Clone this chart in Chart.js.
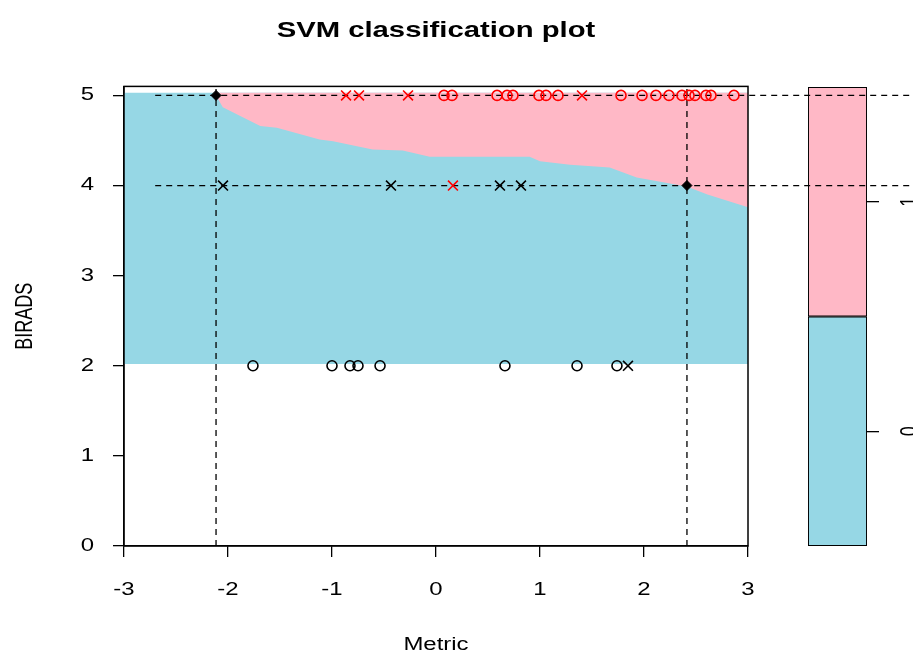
<!DOCTYPE html>
<html>
<head>
<meta charset="utf-8">
<script src="https://cdn.jsdelivr.net/npm/chart.js@4.4.1/dist/chart.umd.min.js"></script>
<style>
  body { margin: 0; background: #fff; }
  #wrap { position: relative; width: 913px; height: 656px; }
  #wrap canvas { position: absolute; left: 0; top: 0; }
</style>
</head>
<body>
<div id="wrap">
  <canvas id="legendBar" width="913" height="656"></canvas>
  <canvas id="svmPlot" width="913" height="656"></canvas>
</div>
<script>
// decision regions
const regionTop = 5.03
const regionBottom = 2.02
const boundaryX = [-2.13, -2.05, -1.69, -1.53, -1.12, -0.99, -0.61, -0.32, -0.06, 0.90, 1.00, 1.29, 1.67, 1.93, 2.41, 2.61, 3.00]
const boundaryY = [5.03, 4.87, 4.66, 4.64, 4.51, 4.49, 4.40, 4.39, 4.32, 4.32, 4.27, 4.23, 4.20, 4.09, 3.99, 3.90, 3.76]

// observations: "o" = data point, "x" = support vector
const row5RedO = [0.077, 0.154, 0.587, 0.683, 0.740, 0.990, 1.058, 1.173, 1.779, 1.981, 2.115, 2.240, 2.365, 2.433, 2.490, 2.596, 2.644, 2.865]
const row5RedX = [-0.865, -0.740, -0.269, 1.404]
const row4BlackX = [-2.048, -0.433, 0.615, 0.817]
const row4RedX = [0.163]
const row2BlackO = [-1.76, -1.00, -0.827, -0.75, -0.538, 0.663, 1.356, 1.740]
const row2BlackX = [1.846]

// slice lines
const sliceX = [-2.115, 2.413]
const sliceY = [5, 4]
const sliceStartX = -2.70
const sliceEndX = 4.70

const xTicks = [-3, -2, -1, 0, 1, 2, 3]
const yTicks = [0, 1, 2, 3, 4, 5]

const legendLevels = ['0', '1']
const legendShares = [0.5, 0.5]
const legendTickAt = [0.25, 0.75]

const BLUE = '#96d7e5'
const PINK = '#ffb8c6'
const FONT = '"Liberation Sans", Arial, sans-serif'
const TEXT_STRETCH = 1.33 // the source image is stretched sideways, text included

Chart.defaults.font.family = FONT
Chart.defaults.color = '#000'

// widen every piece of text horizontally on screen, around its anchor point
function stretchedContext(id) {
  const c = document.getElementById(id).getContext('2d')
  const fill = c.fillText.bind(c)
  c.fillText = function (text, x, y, maxWidth) {
    const m = c.getTransform()
    const p = m.transformPoint(new DOMPoint(x, y))
    c.setTransform(new DOMMatrix().translate(p.x, p.y).scale(TEXT_STRETCH, 1).translate(-p.x, -p.y).multiply(m))
    if (maxWidth === undefined) fill(text, x, y)
    else fill(text, x, y, maxWidth)
    c.setTransform(m)
  }
  return c
}

const row = (xs, y) => xs.map(x => ({ x: x, y: y }))

const pointSet = (xs, y, color, style, r) => ({
  type: 'scatter',
  data: row(xs, y),
  pointStyle: style,
  pointRadius: r,
  pointBorderColor: color,
  pointBackgroundColor: 'rgba(0,0,0,0)',
  pointBorderWidth: 1.6,
  showLine: false,
  order: 1
})

const dashed = (data) => ({
  type: 'line',
  data: data,
  borderColor: '#000',
  borderWidth: 1.3,
  borderDash: [6, 5],
  pointRadius: 0,
  fill: false,
  clip: false,
  order: 3
})

const boxPlugin = {
  id: 'box',
  afterDatasetsDraw(chart) {
    const a = chart.chartArea
    const c = chart.ctx
    c.save()
    c.strokeStyle = '#000'
    c.lineWidth = 1.5
    c.strokeRect(a.left, a.top, a.right - a.left, a.bottom - a.top)
    c.restore()
  }
}

var svm = new Chart(stretchedContext('svmPlot'), {
  type: 'scatter',
  data: {
    datasets: [
      {
        type: 'line',
        data: [{ x: -3, y: regionTop }, { x: 3, y: regionTop }],
        backgroundColor: BLUE,
        borderWidth: 0,
        pointRadius: 0,
        fill: { value: regionBottom },
        order: 10
      },
      {
        type: 'line',
        data: boundaryX.map((x, i) => ({ x: x, y: boundaryY[i] })),
        backgroundColor: PINK,
        borderWidth: 0,
        pointRadius: 0,
        fill: { value: regionTop },
        order: 9
      },
      dashed([{ x: sliceStartX, y: sliceY[0] }, { x: sliceEndX, y: sliceY[0] }]),
      dashed([{ x: sliceStartX, y: sliceY[1] }, { x: sliceEndX, y: sliceY[1] }]),
      dashed([{ x: sliceX[0], y: 0 }, { x: sliceX[0], y: 5.1 }]),
      dashed([{ x: sliceX[1], y: 0 }, { x: sliceX[1], y: 5.1 }]),
      pointSet(row5RedO, 5, '#ff0000', 'circle', 5),
      pointSet(row5RedX, 5, '#ff0000', 'crossRot', 7),
      pointSet(row4BlackX, 4, '#000', 'crossRot', 7),
      pointSet(row4RedX, 4, '#ff0000', 'crossRot', 7),
      pointSet(row2BlackO, 2, '#000', 'circle', 5),
      pointSet(row2BlackX, 2, '#000', 'crossRot', 7),
      {
        type: 'scatter',
        data: sliceX.map((x, i) => ({ x: x, y: sliceY[i] })),
        pointStyle: 'rectRot',
        pointRadius: 5,
        pointBackgroundColor: '#000',
        pointBorderColor: '#000',
        order: 0
      }
    ]
  },
  options: {
    responsive: false,
    animation: false,
    layout: { padding: { left: 0, right: 165, top: 0, bottom: 0 } },
    plugins: {
      legend: { display: false },
      tooltip: { enabled: false },
      title: {
        display: true,
        text: 'SVM classification plot',
        fullSize: false,
        color: '#000',
        font: { size: 22, weight: 'bold' },
        padding: { top: 18, bottom: 42 }
      }
    },
    scales: {
      x: {
        type: 'linear',
        min: -3,
        max: 3,
        afterBuildTicks: s => { s.ticks = xTicks.map(v => ({ value: v })) },
        afterFit: s => { s.height = 110 },
        grid: { drawOnChartArea: false, drawTicks: true, tickLength: 11, color: '#000', lineWidth: 1.3 },
        border: { color: '#000', width: 1.3 },
        ticks: { font: { size: 18 }, padding: 22, color: '#000' },
        title: { display: true, text: 'Metric', font: { size: 18 }, padding: { top: 0, bottom: 0 } }
      },
      y: {
        type: 'linear',
        min: 0,
        max: 5.1,
        afterBuildTicks: s => { s.ticks = yTicks.map(v => ({ value: v })) },
        afterFit: s => { s.width = 124 },
        grid: { drawOnChartArea: false, drawTicks: true, tickLength: 11, color: '#000', lineWidth: 1.3 },
        border: { color: '#000', width: 1.3 },
        ticks: { font: { size: 18 }, padding: 19, color: '#000' },
        title: { display: true, text: 'BIRADS', font: { size: 18 }, padding: { top: 15, bottom: 0 } }
      }
    }
  },
  plugins: [boxPlugin]
});

// colour key on the right
const keyLabels = {
  id: 'keyLabels',
  afterDraw(chart) {
    const s = chart.scales.y
    const c = chart.ctx
    c.save()
    c.fillStyle = '#000'
    c.font = '18px ' + FONT
    c.textAlign = 'center'
    c.textBaseline = 'middle'
    legendTickAt.forEach((v, i) => {
      c.save()
      c.translate(910, s.getPixelForValue(v))
      c.rotate(-Math.PI / 2)
      c.fillText(legendLevels[i], 0, 0)
      c.restore()
    })
    c.restore()
  }
}

var key = new Chart(stretchedContext('legendBar'), {
  type: 'bar',
  data: {
    labels: [''],
    datasets: legendLevels.map((lv, i) => ({
      label: lv,
      data: [legendShares[i]],
      backgroundColor: i === 0 ? BLUE : PINK,
      borderColor: '#000',
      borderWidth: 1.3,
      borderSkipped: false,
      barPercentage: 1,
      categoryPercentage: 1
    }))
  },
  options: {
    responsive: false,
    animation: false,
    layout: { padding: { left: 808, right: 0, top: 87, bottom: 110 } },
    plugins: { legend: { display: false }, tooltip: { enabled: false } },
    scales: {
      x: { display: false, stacked: true },
      y: {
        stacked: true,
        position: 'right',
        min: 0,
        max: 1,
        afterBuildTicks: s => { s.ticks = legendTickAt.map(v => ({ value: v })) },
        afterFit: s => { s.width = 46 },
        grid: { drawOnChartArea: false, drawTicks: true, tickLength: 12, color: '#000', lineWidth: 1.3 },
        border: { display: false },
        ticks: { display: false }
      }
    }
  },
  plugins: [keyLabels]
});
</script>
</body>
</html>
